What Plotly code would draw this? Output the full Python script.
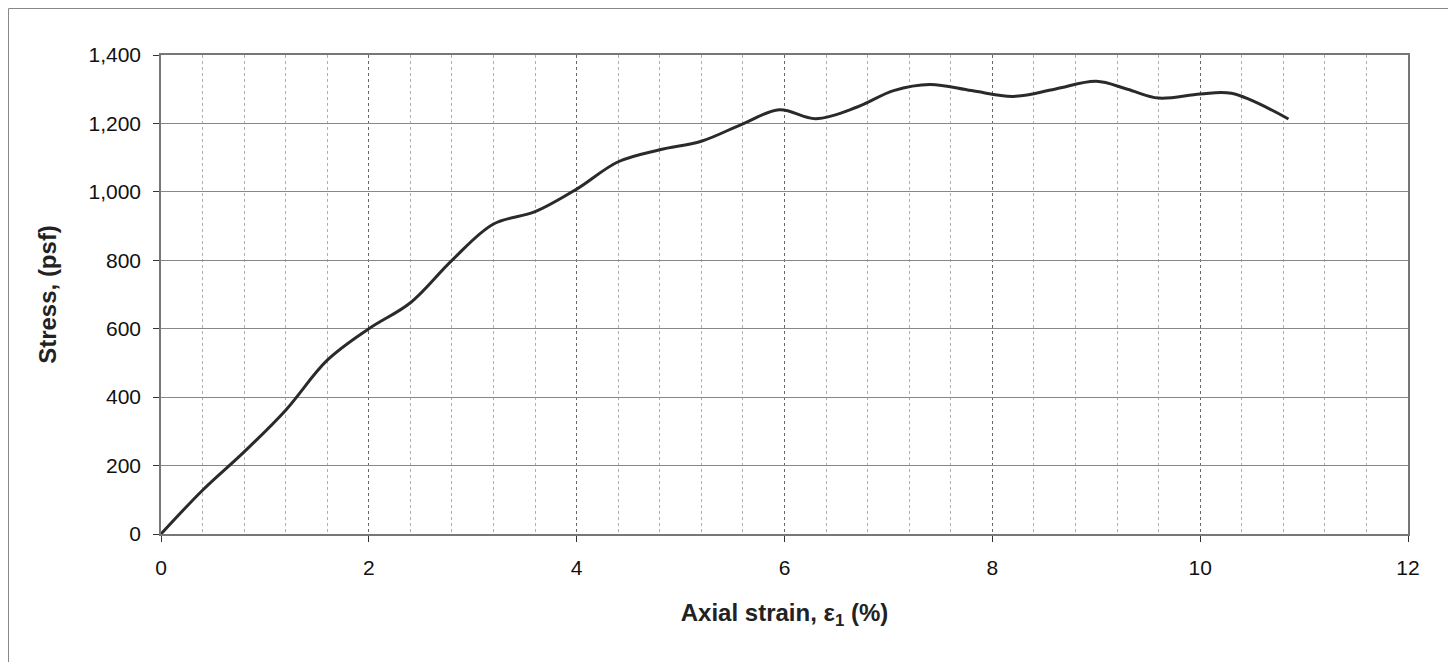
import plotly.graph_objects as go

# Data
strain_pct = [0.0, 0.4, 0.8, 1.2, 1.6, 2.0, 2.4, 2.8, 3.2, 3.6, 4.0, 4.4, 4.8,
              5.2, 5.6, 5.95, 6.3, 6.7, 7.05, 7.4, 7.8, 8.2, 8.6, 9.0, 9.3,
              9.6, 10.0, 10.3, 10.85]
stress_psf = [0, 128, 240, 362, 508, 600, 676, 800, 906, 942, 1008, 1088, 1123,
              1148, 1199, 1240, 1214, 1248, 1296, 1314, 1296, 1279, 1300, 1323, 1300,
              1274, 1286, 1288, 1213]

x_ticks = [0, 2, 4, 6, 8, 10, 12]
y_ticks = [0, 200, 400, 600, 800, 1000, 1200, 1400]

FONT = "Liberation Sans, Arial, sans-serif"

fig = go.Figure()
fig.add_trace(go.Scatter(
    x=strain_pct, y=stress_psf, mode="lines",
    line=dict(color="#2a2a2a", width=3, shape="spline", smoothing=1.0),
    showlegend=False, hoverinfo="x+y",
))

# page body has an 8px margin, so the figure is sized to fit the window
W, H = 1448, 654
L, R, T, B = 153, 48, 47, 128
pw, ph = W - L - R, H - T - B

fig.update_layout(
    width=W, height=H,
    margin=dict(l=L, r=R, t=T, b=B, pad=0),
    paper_bgcolor="white", plot_bgcolor="white",
    font=dict(family=FONT, size=21, color="#111"),
    xaxis=dict(
        range=[0, 12], tickvals=x_ticks, ticktext=[str(v) for v in x_ticks],
        showgrid=True, gridcolor="#666", gridwidth=1, griddash="dot",
        minor=dict(dtick=0.4, tick0=0, showgrid=True, gridcolor="#b0b0b0",
                   griddash="dot", gridwidth=1),
        showline=True, linecolor="#777", linewidth=1.5, mirror=True,
        ticks="outside", ticklen=6, tickcolor="#333", tickwidth=1,
        ticklabelstandoff=8,
        zeroline=False,
        title=dict(text="<b>Axial strain, ε<sub>1</sub> (%)</b>",
                   font=dict(family=FONT, size=24, color="#222"), standoff=26),
    ),
    yaxis=dict(
        range=[0, 1400], tickvals=y_ticks, tickformat=",",
        showgrid=True, gridcolor="#888", gridwidth=1,
        showline=True, linecolor="#777", linewidth=1.5, mirror=True,
        ticks="outside", ticklen=6, tickcolor="#333", tickwidth=1,
        ticklabelstandoff=8,
        zeroline=False,
        title=dict(text="<b>Stress, (psf)</b>",
                   font=dict(family=FONT, size=24, color="#222"), standoff=25),
    ),
    shapes=[dict(
        type="rect", xref="paper", yref="paper",
        x0=(0.5 - L) / pw, x1=(1442 - L) / pw,
        y0=-(B + 10) / ph, y1=(ph + T - 0.5) / ph,
        line=dict(color="#888", width=1), fillcolor="rgba(0,0,0,0)", layer="below",
    )],
)

fig.write_html("out.html")
